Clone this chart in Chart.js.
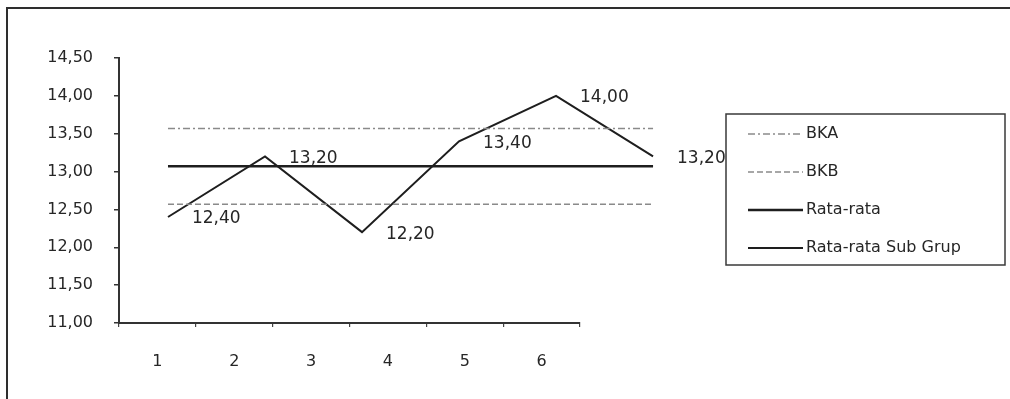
<!DOCTYPE html>
<html>
<head>
<meta charset="utf-8">
<script src="https://cdn.jsdelivr.net/npm/chart.js@4.4.1/dist/chart.umd.min.js"></script>
<style>
  html, body { margin: 0; padding: 0; background: #fff; }
  #c { display: block; }
</style>
</head>
<body>
<canvas id="c" width="1010" height="399"></canvas>
<script>
// Subgroups and their means
const subgroups = ['1', '2', '3', '4', '5', '6'];
const subgroupMeans = [12.40, 13.20, 12.20, 13.40, 14.00, 13.20];

// Control limits (BKA = upper, BKB = lower) and centre line
const upperLimit = [13.57, 13.57, 13.57, 13.57, 13.57, 13.57];
const lowerLimit = [12.57, 12.57, 12.57, 12.57, 12.57, 12.57];
const centerLine = [13.07, 13.07, 13.07, 13.07, 13.07, 13.07];

// Value axis ticks
const yTicks = [11.00, 11.50, 12.00, 12.50, 13.00, 13.50, 14.00, 14.50];

const seriesNames = ['BKA', 'BKB', 'Rata-rata', 'Rata-rata Sub Grup'];

const fmt = v => v.toFixed(2).replace('.', ',');
const toPoints = arr => arr.map((v, i) => ({ x: i + 1, y: v }));

const TEXT = '#262626';
const FONT = '"DejaVu Sans", "Liberation Sans", Arial, sans-serif';

// Frame lines along the top and left of the figure
const framePlugin = {
  id: 'frame',
  beforeDraw(chart) {
    const { ctx, width, height } = chart;
    ctx.save();
    ctx.fillStyle = '#fff';
    ctx.fillRect(0, 0, width, height);
    ctx.strokeStyle = '#2e2e2e';
    ctx.lineWidth = 2;
    ctx.beginPath();
    ctx.moveTo(7, height);
    ctx.lineTo(7, 8);
    ctx.lineTo(width, 8);
    ctx.stroke();
    ctx.restore();
  }
};

// Value labels next to each subgroup mean
const valueLabels = {
  id: 'valueLabels',
  afterDatasetsDraw(chart) {
    const { ctx } = chart;
    const idx = chart.data.datasets.findIndex(d => d.label === seriesNames[3]);
    const meta = chart.getDatasetMeta(idx);
    ctx.save();
    ctx.fillStyle = TEXT;
    ctx.font = '17px ' + FONT;
    ctx.textAlign = 'left';
    ctx.textBaseline = 'middle';
    meta.data.forEach((pt, i) => {
      ctx.fillText(fmt(subgroupMeans[i]), pt.x + 24, pt.y + 2);
    });
    ctx.restore();
  }
};

// Boxed legend on the right
const boxLegend = {
  id: 'boxLegend',
  afterDraw(chart) {
    const { ctx } = chart;
    const L = 726, T = 114, R = 1005, B = 265;
    ctx.save();
    ctx.strokeStyle = '#3a3a3a';
    ctx.lineWidth = 1.5;
    ctx.strokeRect(L, T, R - L, B - T);
    chart.data.datasets.forEach((ds, i) => {
      const y = T + 20 + i * 38;
      ctx.beginPath();
      ctx.setLineDash(ds.borderDash || []);
      ctx.strokeStyle = ds.borderColor;
      ctx.lineWidth = ds.borderWidth;
      ctx.moveTo(L + 22, y);
      ctx.lineTo(L + 77, y);
      ctx.stroke();
      ctx.setLineDash([]);
      ctx.fillStyle = TEXT;
      ctx.font = '16px ' + FONT;
      ctx.textBaseline = 'middle';
      ctx.fillText(ds.label, L + 80, y);
    });
    ctx.restore();
  }
};

const lineBase = { pointRadius: 0, pointHoverRadius: 0, tension: 0, xAxisID: 'xd', clip: false, fill: false };

new Chart(document.getElementById('c'), {
  type: 'line',
  data: {
    labels: subgroups,
    datasets: [
      { ...lineBase, label: seriesNames[0], data: toPoints(upperLimit), borderColor: '#8a8a8a', borderWidth: 1.5, borderDash: [7, 3, 2, 3] },
      { ...lineBase, label: seriesNames[1], data: toPoints(lowerLimit), borderColor: '#8a8a8a', borderWidth: 1.5, borderDash: [6, 3] },
      { ...lineBase, label: seriesNames[2], data: toPoints(centerLine), borderColor: '#1e1e1e', borderWidth: 2.5 },
      { ...lineBase, label: seriesNames[3], data: toPoints(subgroupMeans), borderColor: '#1e1e1e', borderWidth: 2 }
    ]
  },
  options: {
    responsive: false,
    animation: false,
    devicePixelRatio: 1,
    layout: { padding: { left: 0, top: 58, right: 430, bottom: 0 } },
    plugins: { legend: { display: false }, tooltip: { enabled: false } },
    scales: {
      x: {
        type: 'category',
        offset: true,
        grid: { offset: true, drawOnChartArea: false, drawTicks: true, tickLength: 4, color: '#444', lineWidth: 1.2 },
        border: { display: true, color: '#333', width: 2 },
        ticks: { color: TEXT, font: { family: FONT, size: 16 }, padding: 25, maxRotation: 0 },
        afterFit(s) { s.height = 76; }
      },
      xd: {
        type: 'linear',
        display: false,
        min: 0.495,
        max: 5.247
      },
      y: {
        min: 11,
        max: 14.5,
        afterBuildTicks(s) { s.ticks = yTicks.map(v => ({ value: v })); },
        grid: { drawOnChartArea: false, drawTicks: true, tickLength: 5, color: '#333', lineWidth: 1.5 },
        border: { display: true, color: '#333', width: 2 },
        ticks: { color: TEXT, font: { family: FONT, size: 16 }, padding: 21, callback: v => fmt(v) },
        afterFit(s) { s.width = 119; }
      }
    }
  },
  plugins: [framePlugin, valueLabels, boxLegend]
});
</script>
</body>
</html>
